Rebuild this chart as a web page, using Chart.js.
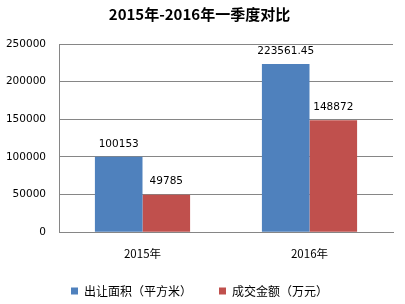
<!DOCTYPE html>
<html>
<head>
<meta charset="utf-8">
<script src="https://cdn.jsdelivr.net/npm/chart.js@4/dist/chart.umd.min.js"></script>
<style>
  html, body { margin: 0; padding: 0; background: #fff; }
  #wrap { width: 405px; height: 304px; }
</style>
</head>
<body>
<div id="wrap"><canvas id="chart"></canvas></div>
<script>
const categories = ["2015年", "2016年"];
const areaValues = [100153, 223561.45];
const dealValues = [49785, 148872];
const areaLabels = ["100153", "223561.45"];
const dealLabels = ["49785", "148872"];
const yTicks = [0, 50000, 100000, 150000, 200000, 250000];

const numFont = "'DejaVu Sans', Verdana, sans-serif";
const cjkFont = "'Noto Sans CJK SC', 'DejaVu Sans', sans-serif";

// draws the value above each bar
const valueLabels = {
  id: "valueLabels",
  afterDatasetsDraw(chart) {
    const ctx = chart.ctx;
    ctx.save();
    ctx.font = "10.5px " + numFont;
    ctx.fillStyle = "#000";
    ctx.textAlign = "center";
    ctx.textBaseline = "middle";
    chart.data.datasets.forEach((ds, i) => {
      const meta = chart.getDatasetMeta(i);
      meta.data.forEach((bar, j) => {
        ctx.fillText(ds.valueText[j], bar.x, bar.y - 13);
      });
    });
    ctx.restore();
  },
};

new Chart(document.getElementById("chart"), {
  type: "bar",
  data: {
    labels: categories,
    datasets: [
      {
        label: "出让面积（平方米）",
        data: areaValues,
        valueText: areaLabels,
        backgroundColor: "#4F81BD",
        barPercentage: 1,
        categoryPercentage: 0.57,
      },
      {
        label: "成交金额（万元）",
        data: dealValues,
        valueText: dealLabels,
        backgroundColor: "#C0504D",
        barPercentage: 1,
        categoryPercentage: 0.57,
      },
    ],
  },
  options: {
    responsive: true,
    maintainAspectRatio: false,
    animation: false,
    layout: { padding: { left: 6, right: 12, top: 0, bottom: -3 } },
    plugins: {
      title: {
        display: true,
        text: "2015年-2016年一季度对比",
        color: "#000",
        font: { family: cjkFont, size: 15, weight: "bold" },
        padding: { top: 5, bottom: 21 },
      },
      legend: {
        position: "bottom",
        labels: {
          color: "#000",
          font: { family: cjkFont, size: 12 },
          boxWidth: 7,
          boxHeight: 7,
          padding: 9,
          // wider gap between the two items without a tall legend box
          generateLabels(chart) {
            const items = Chart.defaults.plugins.legend.labels.generateLabels(chart);
            items.forEach((it, i) => {
              if (i < items.length - 1) it.text += "　　";
            });
            return items;
          },
        },
      },
      tooltip: { enabled: false },
    },
    scales: {
      x: {
        grid: { display: false, drawTicks: false },
        border: { display: true, color: "#868686" },
        ticks: {
          color: "#000",
          font: { family: cjkFont, size: 11.5 },
          padding: 15,
        },
      },
      y: {
        min: 0,
        max: 250000,
        afterBuildTicks(axis) {
          axis.ticks = yTicks.map((v) => ({ value: v }));
        },
        afterFit(axis) {
          axis.width = 53;
        },
        grid: { color: "#868686", drawTicks: false },
        border: { display: true, color: "#868686" },
        ticks: {
          color: "#000",
          font: { family: numFont, size: 10.5 },
          padding: 13,
          callback: (v) => String(v),
        },
      },
    },
  },
  plugins: [valueLabels],
});
</script>
</body>
</html>
